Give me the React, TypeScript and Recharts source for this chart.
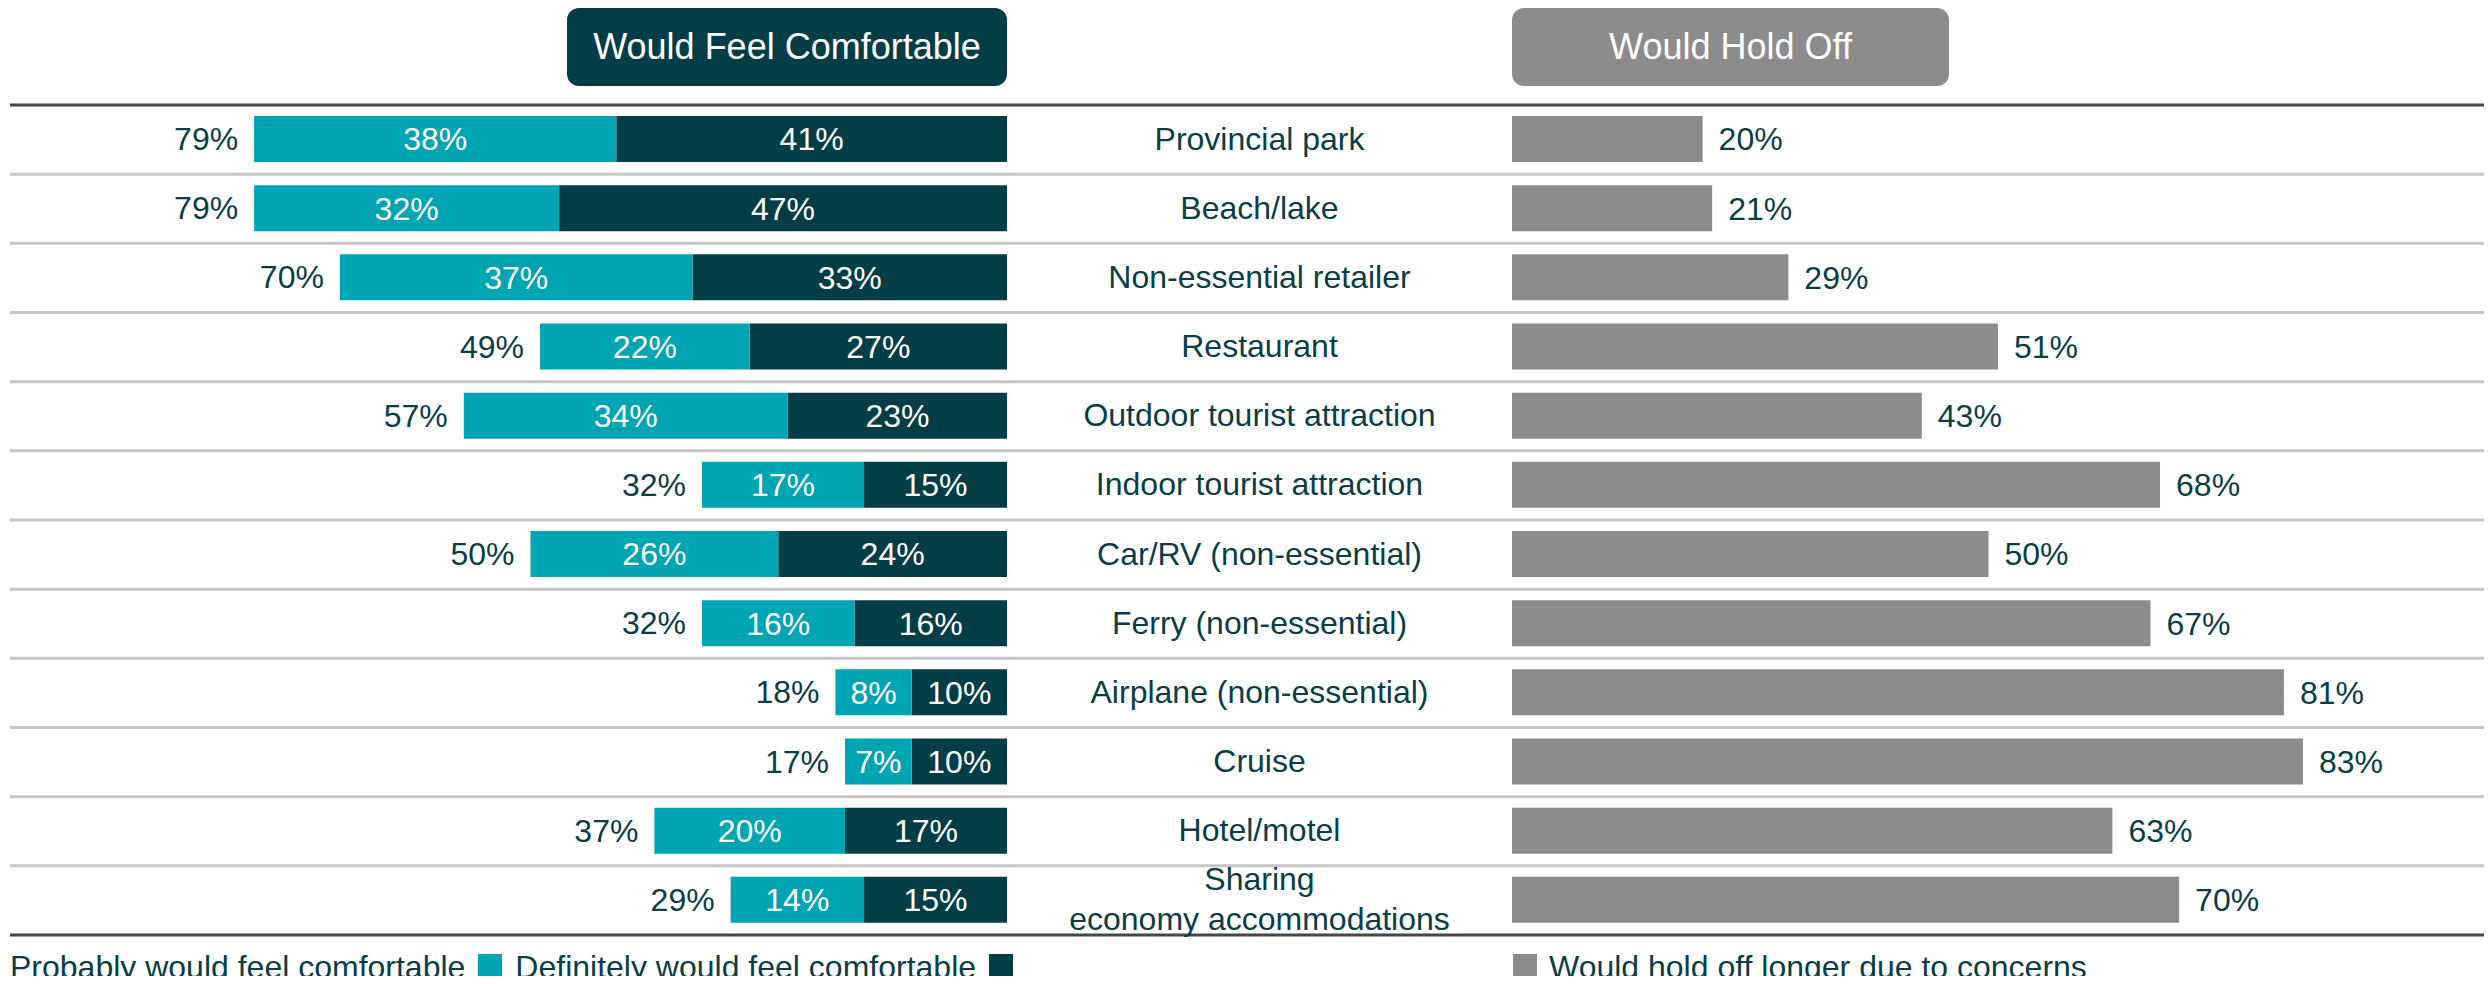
import React from "react";
import { BarChart, Bar, XAxis, YAxis, LabelList } from "recharts";

const categories = [
  "Provincial park",
  "Beach/lake",
  "Non-essential retailer",
  "Restaurant",
  "Outdoor tourist attraction",
  "Indoor tourist attraction",
  "Car/RV (non-essential)",
  "Ferry (non-essential)",
  "Airplane (non-essential)",
  "Cruise",
  "Hotel/motel",
  "Sharing\neconomy accommodations",
];
const probably = [38, 32, 37, 22, 34, 17, 26, 16, 8, 7, 20, 14];
const definitely = [41, 47, 33, 27, 23, 15, 24, 16, 10, 10, 17, 15];
const comfortableTotal = [79, 79, 70, 49, 57, 32, 50, 32, 18, 17, 37, 29];
const holdOff = [20, 21, 29, 51, 43, 68, 50, 67, 81, 83, 63, 70];

const headers = ["Would Feel Comfortable", "Would Hold Off"];
const legendLeft = ["Probably would feel comfortable", "Definitely would feel comfortable"];
const legendRight = ["Would hold off longer due to concerns"];

const TEAL = "#00A5B4";
const DARK = "#033E46";
const GRAY = "#8C8C8C";
const TEXT = "#0A3E46";
const FONT = "'Liberation Sans', Arial, sans-serif";

const TOP = 105;
const PLOT_H = 830;
const EXTRA = 30; // room below the plot so the two-line label is not clipped
const Y_AXIS_W = 505;

const rows = categories.map((category, i) => ({
  category,
  probably: probably[i],
  definitely: definitely[i],
  total: comfortableTotal[i],
  holdOff: holdOff[i],
}));

const pct = (v: any) => `${v}%`;

const TotalLabel = (props: any) => {
  const { x, y, width, height, value } = props;
  const left = Math.min(Number(x), Number(x) + Number(width));
  return (
    <text
      x={left - 16}
      y={Number(y) + Number(height) / 2}
      textAnchor="end"
      dominantBaseline="central"
      fill={TEXT}
      fontSize={32}
      fontFamily={FONT}
    >
      {value}%
    </text>
  );
};

const CategoryTick = (props: any) => {
  const { y, payload } = props;
  const lines = String(payload.value).split("\n");
  const step = 40;
  const start = Number(y) - ((lines.length - 1) * step) / 2;
  return (
    <g>
      {lines.map((line, i) => (
        <text
          key={i}
          x={Y_AXIS_W / 2}
          y={start + i * step}
          textAnchor="middle"
          dominantBaseline="central"
          fill={TEXT}
          fontSize={32}
          fontFamily={FONT}
        >
          {line}
        </text>
      ))}
    </g>
  );
};

const Swatch = ({ color }: { color: string }) => (
  <span style={{ display: "inline-block", width: 24, height: 26, background: color }} />
);

const legendRow = {
  position: "absolute" as const,
  top: 951,
  height: 32,
  display: "flex",
  alignItems: "center",
  fontSize: 32,
  lineHeight: "32px",
  color: TEXT,
  whiteSpace: "nowrap" as const,
};

const headerBox = {
  position: "absolute" as const,
  top: 8,
  height: 78,
  borderRadius: 12,
  color: "#fff",
  fontSize: 36,
  display: "flex",
  alignItems: "center",
  justifyContent: "center",
};

export default function App() {
  const rowH = PLOT_H / categories.length;
  return (
    <div
      style={{
        position: "relative",
        width: 2492,
        height: 984,
        margin: -8,
        overflow: "hidden",
        background: "#fff",
        fontFamily: FONT,
      }}
    >
      <svg width={2492} height={984} style={{ position: "absolute", left: 0, top: 0 }}>
        {categories.slice(1).map((_, i) => (
          <line
            key={i}
            x1={10}
            x2={2492}
            y1={TOP + (i + 1) * rowH}
            y2={TOP + (i + 1) * rowH}
            stroke="#C6C6C6"
            strokeWidth={3}
          />
        ))}
        <line x1={10} x2={2492} y1={TOP} y2={TOP} stroke="#474747" strokeWidth={3} />
        <line x1={10} x2={2492} y1={TOP + PLOT_H} y2={TOP + PLOT_H} stroke="#474747" strokeWidth={3} />
      </svg>

      <div style={{ ...headerBox, left: 567, width: 440, background: DARK }}>{headers[0]}</div>
      <div style={{ ...headerBox, left: 1512, width: 437, background: GRAY }}>{headers[1]}</div>

      <div style={{ position: "absolute", left: 0, top: TOP - 1 }}>
        <BarChart
          layout="vertical"
          data={rows}
          width={1010}
          height={PLOT_H + EXTRA}
          margin={{ top: 0, right: 3, bottom: EXTRA, left: 54 }}
        >
          <XAxis type="number" domain={[0, 100]} reversed hide />
          <YAxis type="category" dataKey="category" hide />
          <Bar dataKey="definitely" stackId="c" fill={DARK} barSize={46} isAnimationActive={false}>
            <LabelList
              dataKey="definitely"
              position="center"
              fill="#fff"
              fontSize={32}
              fontFamily={FONT}
              formatter={pct}
            />
          </Bar>
          <Bar dataKey="probably" stackId="c" fill={TEAL} barSize={46} isAnimationActive={false}>
            <LabelList
              dataKey="probably"
              position="center"
              fill="#fff"
              fontSize={32}
              fontFamily={FONT}
              formatter={pct}
            />
            <LabelList dataKey="total" content={TotalLabel} />
          </Bar>
        </BarChart>
      </div>

      <div style={{ position: "absolute", left: 1007, top: TOP - 1 }}>
        <BarChart
          layout="vertical"
          data={rows}
          width={1485}
          height={PLOT_H + EXTRA}
          margin={{ top: 0, right: 27, bottom: EXTRA, left: 0 }}
        >
          <XAxis type="number" domain={[0, 100]} hide />
          <YAxis
            type="category"
            dataKey="category"
            width={Y_AXIS_W}
            axisLine={false}
            tickLine={false}
            interval={0}
            tick={<CategoryTick />}
          />
          <Bar dataKey="holdOff" fill={GRAY} barSize={46} isAnimationActive={false}>
            <LabelList
              dataKey="holdOff"
              position="right"
              offset={16}
              fill={TEXT}
              fontSize={32}
              fontFamily={FONT}
              formatter={pct}
            />
          </Bar>
        </BarChart>
      </div>

      <div style={{ ...legendRow, left: 10, gap: 13 }}>
        <span>{legendLeft[0]}</span>
        <Swatch color={TEAL} />
        <span>{legendLeft[1]}</span>
        <Swatch color={DARK} />
      </div>
      <div style={{ ...legendRow, left: 1513, gap: 12 }}>
        <Swatch color={GRAY} />
        <span>{legendRight[0]}</span>
      </div>
    </div>
  );
}
